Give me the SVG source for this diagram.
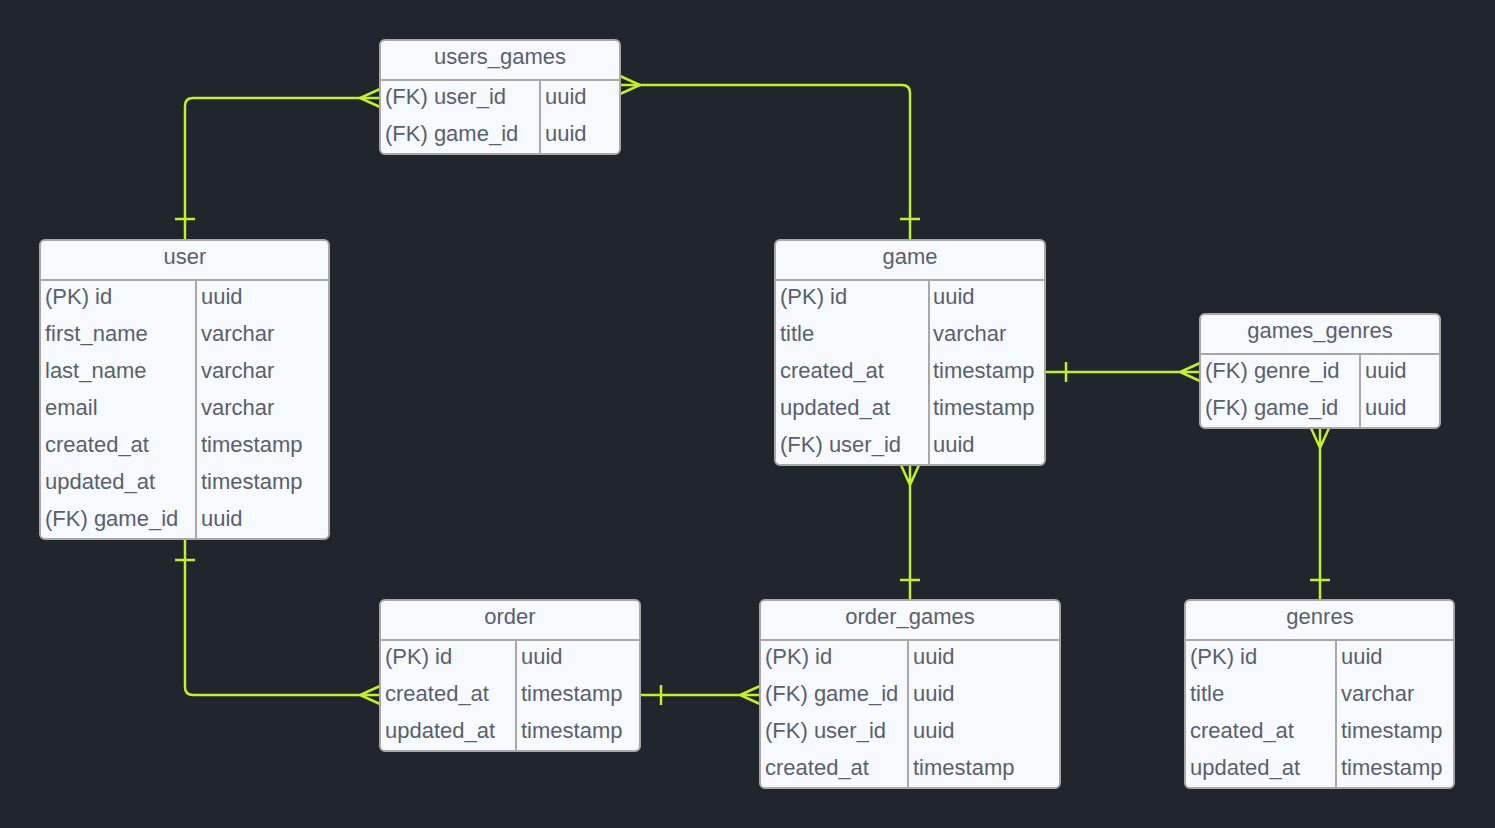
<svg xmlns="http://www.w3.org/2000/svg" width="1495" height="828" viewBox="0 0 1495 828">
<style>
.box{fill:#f6faff;stroke:#a8a8a8;stroke-width:2}
.div{stroke:#a8a8a8;stroke-width:2}
text{font-family:"Liberation Sans",Arial,sans-serif;font-size:22px;fill:#5a5f6c}
.h{text-anchor:middle}
.c{fill:none;stroke:#c3ef2c;stroke-width:2.5}
</style>
<rect width="1495" height="828" fill="#21252c"/>
<g id="connectors" class="c">
<path d="M185,240 V106 Q185,98 193,98 H380"/>
<path d="M380,89 L360,98 L380,107 M175,219 H195"/>
<path d="M620,85 H902 Q910,85 910,93 V240"/>
<path d="M620,76 L640,85 L620,94 M900,219 H920"/>
<path d="M1045,372 H1200 M1066,362 V382 M1200,363 L1180,372 L1200,381"/>
<path d="M1320,428 V600 M1311,428 L1320,448 L1329,428 M1310,580 H1330"/>
<path d="M910,465 V600 M901,465 L910,485 L919,465 M900,580 H920"/>
<path d="M640,695 H760 M661,685 V705 M760,686 L740,695 L760,704"/>
<path d="M185,539 V687 Q185,695 193,695 H380 M175,560 H195 M380,686 L360,695 L380,704"/>
</g>
<g id="users_games">
<rect class="box" x="380" y="40" width="240" height="114" rx="5"/>
<line class="div" x1="380" y1="80" x2="620" y2="80"/><line class="div" x1="540" y1="80" x2="540" y2="154"/>
<text class="h" x="500" y="64">users_games</text>
<text x="385" y="104">(FK) user_id</text><text x="545" y="104">uuid</text>
<text x="385" y="141">(FK) game_id</text><text x="545" y="141">uuid</text>
</g>
<g id="user">
<rect class="box" x="40" y="240" width="289" height="299" rx="5"/>
<line class="div" x1="40" y1="280" x2="329" y2="280"/><line class="div" x1="196" y1="280" x2="196" y2="539"/>
<text class="h" x="185" y="264">user</text>
<text x="45" y="304">(PK) id</text><text x="201" y="304">uuid</text>
<text x="45" y="341">first_name</text><text x="201" y="341">varchar</text>
<text x="45" y="378">last_name</text><text x="201" y="378">varchar</text>
<text x="45" y="415">email</text><text x="201" y="415">varchar</text>
<text x="45" y="452">created_at</text><text x="201" y="452">timestamp</text>
<text x="45" y="489">updated_at</text><text x="201" y="489">timestamp</text>
<text x="45" y="526">(FK) game_id</text><text x="201" y="526">uuid</text>
</g>
<g id="game">
<rect class="box" x="775" y="240" width="270" height="225" rx="5"/>
<line class="div" x1="775" y1="280" x2="1045" y2="280"/><line class="div" x1="929" y1="280" x2="929" y2="465"/>
<text class="h" x="910" y="264">game</text>
<text x="780" y="304">(PK) id</text><text x="933" y="304">uuid</text>
<text x="780" y="341">title</text><text x="933" y="341">varchar</text>
<text x="780" y="378">created_at</text><text x="933" y="378">timestamp</text>
<text x="780" y="415">updated_at</text><text x="933" y="415">timestamp</text>
<text x="780" y="452">(FK) user_id</text><text x="933" y="452">uuid</text>
</g>
<g id="games_genres">
<rect class="box" x="1200" y="314" width="240" height="114" rx="5"/>
<line class="div" x1="1200" y1="354" x2="1440" y2="354"/><line class="div" x1="1360" y1="354" x2="1360" y2="428"/>
<text class="h" x="1320" y="338">games_genres</text>
<text x="1205" y="378">(FK) genre_id</text><text x="1365" y="378">uuid</text>
<text x="1205" y="415">(FK) game_id</text><text x="1365" y="415">uuid</text>
</g>
<g id="order">
<rect class="box" x="380" y="600" width="260" height="151" rx="5"/>
<line class="div" x1="380" y1="640" x2="640" y2="640"/><line class="div" x1="516" y1="640" x2="516" y2="751"/>
<text class="h" x="510" y="624">order</text>
<text x="385" y="664">(PK) id</text><text x="521" y="664">uuid</text>
<text x="385" y="701">created_at</text><text x="521" y="701">timestamp</text>
<text x="385" y="738">updated_at</text><text x="521" y="738">timestamp</text>
</g>
<g id="order_games">
<rect class="box" x="760" y="600" width="300" height="188" rx="5"/>
<line class="div" x1="760" y1="640" x2="1060" y2="640"/><line class="div" x1="908" y1="640" x2="908" y2="788"/>
<text class="h" x="910" y="624">order_games</text>
<text x="765" y="664">(PK) id</text><text x="913" y="664">uuid</text>
<text x="765" y="701">(FK) game_id</text><text x="913" y="701">uuid</text>
<text x="765" y="738">(FK) user_id</text><text x="913" y="738">uuid</text>
<text x="765" y="775">created_at</text><text x="913" y="775">timestamp</text>
</g>
<g id="genres">
<rect class="box" x="1185" y="600" width="269" height="188" rx="5"/>
<line class="div" x1="1185" y1="640" x2="1454" y2="640"/><line class="div" x1="1336" y1="640" x2="1336" y2="788"/>
<text class="h" x="1320" y="624">genres</text>
<text x="1190" y="664">(PK) id</text><text x="1341" y="664">uuid</text>
<text x="1190" y="701">title</text><text x="1341" y="701">varchar</text>
<text x="1190" y="738">created_at</text><text x="1341" y="738">timestamp</text>
<text x="1190" y="775">updated_at</text><text x="1341" y="775">timestamp</text>
</g>
</svg>
